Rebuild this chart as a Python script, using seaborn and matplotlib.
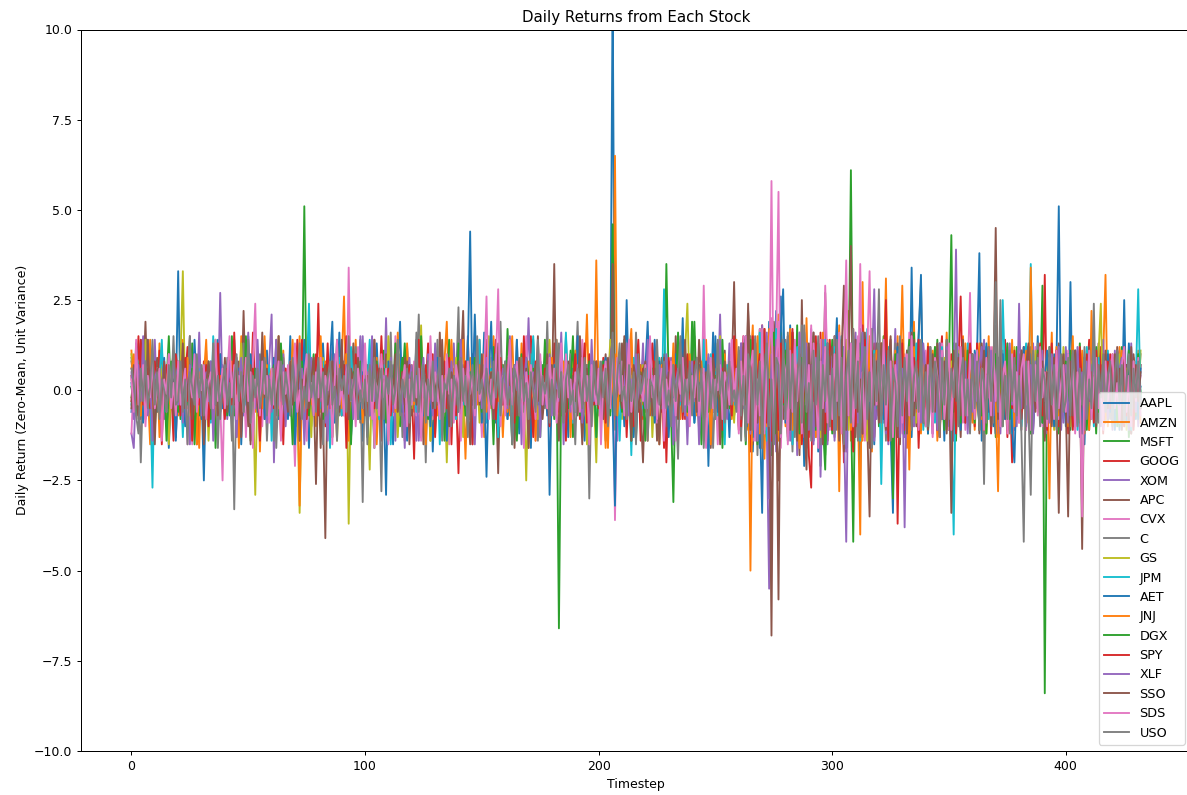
import numpy as np
import matplotlib
matplotlib.use("Agg")
import matplotlib.pyplot as plt
import seaborn as sns

# Daily returns, stored in tenths of a unit (12 -> 1.2)
aapl = [-6, 2, 4, -1, 14, -3, 1, 5, -10, 2, 0, 6, -2, 12, -4, 1, -16, 3, 0, -2,
        33, -5, 2, -1, 6, -13, 1, 4, -3, 9, 0, -25, 3, -1, 5, -4, 1, 14, -2, 0,
        4, -1, -6, 3, 1, -13, 7, 0, 2, -4, 15, 0, -3, 1, -7, 4, 1, -2, 11, -5,
        -2, 5, 1, -8, 3, 0, 4, -4, 15, -2, 1, -6, 2, 7, -3, 0, -16, 4, 1, -1,
        3, -5, 13, -1, 0, 5, -7, 2, -2, 16, -1, 4, -6, 1, 0, -3, 7, -1, 2, -14,
        1, 5, -3, 0, -6, 13, -1, 2, -4, 1, 6, -2, -15, 3, 0, -2, 4, -5, 12, -1,
        -2, 3, 0, -5, 12, -2, 1, 0, 4, -17, 2, 5, -1, 0, -3, 6, -1, 2, -6, 1,
        4, -1, 7, -3, 0, 2, -13, 1, -1, 5, -2, 16, -4, 1, 3, -1, -9, 2, 0, -2,
        2, -4, 1, 6, -1, 3, -12, 0, 5, -2, 1, -3, 14, -1, 2, -5, 4, 0, 13, -29,
        3, -2, 6, 0, -4, 1, 15, -2, 0, 5, -6, 2, -1, 3, -14, 1, 4, -3, 7, -1,
        -2, 6, 1, -5, 0, 3, 112, -8, 2, -1, 5, -3, 25, -1, 2, -13, 0, 4, -2, 9,
        -1, 3, -5, 1, 14, -2, 2, 0, 6, -4, 1, 3, -15, 0, 5, -2, 2, -1, -7, 4,
        2, -3, 7, -1, 4, -10, 0, 2, -5, 16, -1, 3, 0, 6, -4, 1, -13, 5, 0, -2,
        6, -9, 3, 14, -4, 8, -17, 2, 10, -6, -34, 12, -5, 19, -11, 4, 22, -8, 26, -3,
        10, -6, 18, -12, 3, 7, -9, 5, -21, 13, -2, 6, -14, 2, 11, -7, 1, 16, -4, 9,
        -11, 5, 20, -8, 2, -15, 9, 6, -3, 13, -10, 2, -22, 8, 12, -5, 1, 17, -7, 4,
        8, -13, 3, 15, -6, 10, -18, 2, 7, -9, 5, -3, 11, -8, 34, -4, 6, 14, -10, 1,
        -5, 9, 2, -12, 7, -2, 13, -8, 4, 0, -11, 8, -3, 12, -6, 2, 9, -9, 5, -1,
        7, -4, 10, 38, -14, 3, -8, 6, 1, -10, 9, -3, 12, -6, 4, 0, 10, -9, 3, 5,
        -7, 11, -3, 6, 2, -10, 8, -1, 15, -5, 3, -13, 9, 0, -6, 10, -3, 7, -9, 4,
        2, -8, 30, -10, 5, 9, -3, 0, -15, 7, 3, -6, 12, -2, 8, -5, 1, 10, -7, 4,
        -4, 9, 0, -11, 6, 2, -4, 13, -1, 5, -8, 3, 1]

amzn = [11, -3, 5, -6, 2, 7, -4, 0, -15, 4, 1, -6, 13, -2, 3, -10, 5, 0, -4, 2,
        -7, 3, 14, -1, -5, 12, -3, 4, 0, -16, 6, -2, 2, 7, -4, 1, -8, 5, 2, -3,
        4, -1, 10, -6, 2, 0, -7, 15, -3, 2, -5, 8, 1, -2, 6, -17, 3, 0, 7, -4,
        2, -14, 5, 0, -3, 11, -6, 2, -2, 7, -4, 1, 15, -7, 3, 0, 6, -3, 4, -10,
        6, -3, 1, 8, -5, 2, -13, 4, 0, -2, 7, 26, -6, 2, -8, 3, 14, -4, 1, -2,
        -4, 2, 7, -2, 5, -15, 1, 3, -6, 12, 0, 4, -3, 2, -7, 6, 0, -5, 13, -1,
        3, -6, 2, 11, -4, 0, -3, 7, -14, 1, 5, -4, 3, -1, 8, 19, -5, 2, -7, 4,
        -2, 5, 0, -19, 3, 9, -4, 1, 6, -3, 2, -13, 4, 0, -5, 15, -1, 3, -6, 7,
        -1, 4, -7, 3, 0, 6, -4, 13, -2, 5, -16, 1, 3, -4, 7, 0, -6, 2, 10, -3,
        5, -2, 14, -5, 3, 1, -10, 4, -3, 7, 0, -4, 2, -13, 3, 21, -4, 6, -1, 3,
        -6, 3, 0, -4, -16, 7, 2, 65, -9, 4, -2, 9, -4, 1, 14, -5, 3, 6, 0, -8,
        4, -1, 7, -6, 2, 3, -15, 0, 5, -3, 8, -4, 1, 6, -2, -8, 3, 12, -4, 0,
        -5, 7, 2, -11, 4, 0, 14, -3, -6, 3, 13, -1, 5, -13, 2, -4, 9, 1, -2, 6,
        10, -6, 14, -3, -11, 7, 18, -13, 5, -2, 12, -19, 8, 15, -7, 3, -14, 21, -4, 9,
        -10, 6, 17, -3, 11, -15, 4, 8, -12, 20, -6, 2, 13, -9, 5, -18, 10, -1, 14, -7,
        7, -12, 3, 18, -8, 11, -5, 22, -14, 2, 9, -4, -40, 30, -10, 6, 13, -17, 4, -2,
        12, -9, 5, 17, -13, 2, 8, -6, 15, -11, 3, 7, -16, 10, -3, 19, -8, 4, -12, 9,
        -4, 13, 1, -10, 7, -14, 11, 3, -7, 16, -3, 8, -12, 6, 0, -9, 15, -5, 10, -2,
        6, -11, 3, 13, -8, 4, -3, 15, -10, 7, 2, -13, 9, -5, 11, 1, -7, 14, -4, 8,
        -9, 5, 12, -3, 8, -12, 3, 10, -6, 2, 14, -8, 4, -2, 16, -10, 7, -4, 9, -3,
        11, -6, 3, 15, -9, 5, -3, 10, -12, 8, 1, -5, 13, -7, 4, -2, 9, 32, -10, 3,
        -3, 8, -7, 12, 2, -10, 6, -4, 9, 0, -6, 11, -4]

msft = [-2, 4, -7, 1, 13, -3, 3, -6, 0, 5, -11, 3, -1, 7, -4, 2, 15, -5, 0, 6,
        3, -8, 5, 0, 3, -4, 13, -2, 1, -7, 6, 0, -3, 8, -2, 4, -16, 2, 7, -5,
        -1, 6, -3, 15, -7, 2, 0, -5, 4, -2, 8, -14, 3, 5, 0, -4, 7, 1, -6, 3,
        5, -2, 1, -7, 11, 3, -5, 0, -2, 6, -14, 2, 4, -1, 51, -4, 2, -10, 7, 0,
        -3, 8, 2, -5, 0, 6, -13, 3, -1, 4, 9, -2, -7, 1, 5, -4, 3, 0, 14, -6,
        2, -4, 7, 0, -16, 5, -2, 3, 11, -6, 1, -3, 6, -1, 4, -10, 2, 13, -2, 0,
        -5, 2, 10, -3, 1, 6, -7, 4, 0, 2, -12, 7, 0, -4, 5, -2, 14, -6, 3, 1,
        4, -7, 2, -1, 14, -4, 0, 6, -2, 2, -10, 5, 3, -6, 1, 12, -3, 0, -5, 7,
        -3, 6, 1, -15, 4, 2, -5, 10, -1, 3, -7, 0, 5, -3, 2, -13, 7, -2, 4, 0,
        -6, 3, 0, 8, -4, 2, 6, -2, 11, -13, 1, 4, -5, 2, -1, 7, -9, 3, 0, -3,
        5, -2, 8, -6, 2, 0, 46, -11, 4, -3, 7, 1, -5, 10, -2, 2, -14, 6, -1, 3,
        -4, 7, 2, -9, 3, 10, -1, 6, -5, 35, 2, -7, -31, 5, 0, -3, 13, -2, 4, -6,
        19, -3, 5, -8, 2, 7, -4, 0, 9, -6, 3, -1, 6, -16, 2, 4, -5, 12, -2, 1,
        -8, 12, 4, -15, 7, -3, 14, -10, 2, 17, -6, 9, -13, 5, -18, 11, 3, -7, 16, -4,
        9, -14, 3, 13, -6, 18, -11, 2, 7, -16, 10, -3, 15, -8, 4, -21, 12, -18, 6, -3,
        14, -7, 2, -12, 10, 5, -16, 8, -3, -42, 11, -5, 17, -9, 2, 13, -11, 6, -1, 9,
        -10, 4, 15, -7, 11, -14, -13, 7, 2, -9, 13, -4, 8, -12, 5, 16, -6, 1, -11, 10,
        6, -12, 2, 9, -5, 14, -8, 3, -2, 11, -10, 7, 0, -14, 8, -3, 12, -6, 2, -9,
        10, -4, 7, -11, 1, 13, -7, 5, -2, 9, -13, 4, 11, -6, 2, -10, 8, 0, -5, 12,
        -7, 9, -2, 6, 12, -10, 3, -5, 8, -1, 29, -84, 5, -8, 11, -4, 7, -12, 2, 10,
        -3, 8, -11, 5, 1, -7, 13, -4, 9, 0, -10, 6, 2, -12, 7, -5, 10, 0, -8, 4,
        9, -6, 1, -10, 12, -3, 7, -13, 4, 0, -7, 10, -2]

goog = [4, -6, 1, 15, -2, 5, -8, 2, 7, -4, 0, -2, 11, -7, 3, 4, -5, 1, -14, 6,
        -1, 7, -4, 3, 12, -6, 0, 4, -15, 2, -3, 8, -5, 3, 1, -7, 6, 0, 10, -3,
        5, -2, 8, -7, 0, 3, -13, 6, -3, 1, 7, -4, 16, -1, -6, 3, 4, -8, 2, 0,
        -4, 9, -1, 5, -13, 2, 6, -3, 0, 10, -5, 3, -2, 14, -9, 4, 1, -6, 7, -3,
        24, -5, 3, -10, 6, 1, -3, 8, -2, 4, -7, 0, 15, -4, 3, -1, 7, -8, 5, 2,
        -3, 6, 0, 9, -5, 3, 1, -14, 4, -2, 10, -6, 2, 0, -4, 8, -3, 5, -9, 3,
        1, -19, 7, -3, 4, -8, 2, 13, -4, 0, -6, 5, 3, -1, 8, -5, 3, -15, 6, -2,
        -23, 4, -3, 7, 0, -6, 10, -3, 2, 5, -8, 3, -1, 6, -4, 1, 14, -7, 3, 0,
        7, -3, 2, -9, 5, 0, -3, 8, -6, 4, -1, 15, -5, 3, -13, 3, 1, -4, 6, -2,
        -5, 13, 3, -1, 6, -7, 0, 4, -3, 9, -2, 5, -8, 1, 3, -6, 10, -3, 2, -4,
        6, -3, 9, -5, 1, 4, 17, -8, 3, 0, 7, -4, 2, 10, -6, 3, -1, 5, -14, 0,
        -2, 5, -7, 3, 8, -3, 1, -6, 10, -20, 4, 0, -5, 7, -3, 2, 14, -8, 3, -1,
        4, -8, 2, 7, -3, 15, -1, 5, -6, 0, 8, -4, 3, -11, 6, 1, -3, 9, -7, 3,
        -11, 6, 15, -4, 10, -17, 3, 8, -13, 5, 18, -9, 2, -16, 12, -5, 7, 14, -10, 3,
        8, -12, 4, 17, -7, 11, -3, -15, 6, 9, -18, -27, 13, 3, -8, 16, -5, 10, -14, 2,
        -9, 15, 5, -13, 10, -20, 7, 3, -6, -17, 12, 4, -11, 18, -3, 8, -15, 2, 13, -7,
        11, -5, 3, 19, -10, 6, -14, 8, -37, 3, 14, -8, 5, -12, 10, -3, 7, -16, 4, 9,
        -7, 12, -3, 8, 2, -11, 6, 15, -9, 4, -5, 10, -13, 3, 7, 26, -4, 9, -8, 1,
        5, -10, 13, -3, 8, -7, 4, 11, -12, 2, 6, -8, 10, -4, 14, -6, 3, -20, 7, -2,
        9, -4, 12, -8, 3, 7, -11, 5, -1, 10, -6, 32, -9, 4, 13, -7, 2, -10, 8, -3,
        6, -12, 3, 9, -5, 11, -2, 7, -10, 3, 14, -4, 8, -7, 1, 12, -9, 5, -3, 10,
        -8, 4, 11, -6, 2, -10, 7, 3, -12, 9, -1, 5, -4]

xom = [-12, -16, 3, 7, -4, 1, 6, -7, 4, -2, 14, -5, 0, 4, -8, 2, 7, -3, 5, -6,
       2, -4, 8, -1, 5, -15, 3, 0, -6, 10, -2, 4, -7, 3, 1, -5, 7, -3, 27, -2,
       4, -8, 1, 6, -4, 9, 0, 3, -7, 2, 16, -5, 3, -1, 7, -13, 4, 0, -3, 8,
       21, -20, 5, 2, -6, 10, -3, 4, 0, 7, -14, 1, 6, -4, 3, -2, 8, -7, 3, 0,
       -5, 7, 1, -9, 4, -3, 12, -6, 2, 5, -1, 8, -4, 0, -13, 3, 6, -2, 15, -3,
       3, -6, 8, -2, 4, 0, -7, 5, -3, 20, -5, 2, 7, -14, 3, -1, 6, -4, 1, 9,
       -3, 5, -14, 2, 7, -4, 0, 10, -6, 3, -1, 8, -5, 3, 4, -12, 2, 0, 13, -3,
       6, -2, 3, -7, 15, -4, 1, 5, -3, 8, -10, 3, 0, -5, 7, -1, 4, -13, 2, 5,
       -4, 9, -1, 3, -6, 2, 7, -15, 3, 0, 20, -3, 5, -7, 1, 8, -4, 3, -2, 6,
       -3, 7, -5, 1, 16, -3, 4, -8, 0, 6, -2, 9, -6, 3, 0, 5, -14, 2, 7, -4,
       3, -7, 5, -1, 8, -4, 2, 7, -14, 3, 0, -5, 10, -3, 4, -8, 1, 6, -2, 13,
       -6, 2, 14, -3, 5, -10, 3, 0, 7, -4, 1, 9, -7, 3, -2, 6, 0, 4, -15, 3,
       7, -3, 1, -9, 5, 3, -6, 10, -2, 4, -8, 0, 21, -5, 3, -1, 13, -7, 2, 6,
       -9, 13, -5, 7, 16, -12, 4, -7, 10, -15, 18, 3, -11, -55, 14, 6, -17, 9, -4, 12,
       -6, 15, -10, 4, 11, -18, 7, 2, -13, 9, -4, 17, -8, 3, 12, -24, 5, 10, -15, 3,
       8, -14, 6, -3, 13, -9, -42, 11, -7, 4, 16, -12, 2, 9, -5, 14, -10, 7, 28, -8,
       3, 12, -9, 6, -15, 10, -4, 17, -7, 2, 9, -13, 5, -3, 14, -10, 8, 1, -11, 7,
       -5, 10, 4, -12, 7, -2, 13, -8, 3, 11, -6, 1, -14, 9, 4, -7, 12, -4, 6, -10,
       8, -3, 11, -7, 4, 14, -10, 2, -5, 9, 0, -12, 7, 3, -8, 12, -2, 6, -11, 4,
       -4, 9, 2, -11, 7, -6, 13, -3, 5, 10, -8, 3, -12, 6, 1, -7, 11, -3, 8, -9,
       12, -5, 7, 1, -10, 4, -13, 9, 3, -6, 11, -2, 5, -9, 8, -4, 14, -7, 3, 0,
       -11, 6, 3, -8, 10, -3, 5, -7, 13, -1, 4, -10, 7]

apc = [8, 2, -5, 3, -8, 1, 19, -3, 7, -4, 0, 9, -6, 3, -1, 5, -14, 4, 2, -3,
       8, -2, 4, -7, 1, 15, -3, 0, -5, 6, 3, -13, 4, -1, 7, -4, 2, 9, -6, 3,
       -3, 5, 0, -7, 3, -1, 8, -4, 22, -2, 6, -15, 3, 4, -5, 1, 7, -3, 0, -6,
       4, -2, 14, -5, 3, 1, -7, 6, -3, 10, 0, 3, -14, 2, 5, -3, 7, -4, 0, -26,
       5, 1, -6, -41, 7, 3, -4, 9, -1, 3, -7, 2, 6, -5, 0, 13, -3, 4, -9, 1,
       -2, 7, -4, 3, 14, -6, 0, 5, -3, 10, -7, 1, 3, 0, 6, -5, 2, 9, -3, 4,
       -7, 3, 6, -1, 4, -15, 2, 8, -3, 0, 5, -6, 16, -3, 1, -4, 7, -2, 3, -8,
       3, 6, 22, -5, 2, -8, 4, 0, -3, 14, -1, 5, -7, 3, 8, -4, 1, -23, 6, -2,
       7, -4, 1, 5, -16, 3, 0, 8, -5, 3, 2, -7, 6, -1, 15, -3, 0, 4, -6, 3,
       -1, 35, -8, 3, 7, -4, 1, -3, 9, -6, 2, 5, 0, -15, 4, 3, -7, 8, -2, 0,
       4, -6, 2, 10, -3, 1, 35, -7, 5, 0, 13, -4, 3, -2, 6, -9, 3, 0, -5, -20,
       2, 7, -3, 0, 5, -14, 3, 9, -2, -10, 4, 1, -6, 15, -3, 3, 0, 6, -4, 2,
       -5, 3, 9, -3, 6, -7, 1, 4, -16, 3, 0, -4, 7, -2, 11, -6, 3, 5, 30, -3,
       10, -7, 4, -13, 22, 8, -15, 5, 13, -9, -6, 17, -11, 3, -68, 19, 7, -58, 15, -8,
       4, -13, 9, 16, -7, 2, -18, 25, -10, -12, 11, -5, 15, 2, -14, 8, -3, 27, -9, 6,
       -11, 7, 14, -4, 10, -17, 3, 12, -8, 5, -13, 9, 2, -6, 16, -10, -35, 8, -2, 13,
       7, -12, 4, 15, -6, 10, -9, 2, 13, -15, 5, -3, 11, -7, 1, 14, -10, 6, -4, 9,
       -8, 5, 12, -3, 7, -11, 2, 10, -6, 14, -2, 4, -9, 8, 0, -13, 6, 11, -5, 3,
       9, -6, 3, -10, 13, 2, -7, 8, -4, 11, -12, 5, 1, -8, 7, -2, 10, -9, 4, 0,
       6, -11, 8, 3, -5, 12, -8, 2, 9, -3, 7, -14, 4, 10, -6, 1, -10, 13, -2, 5,
       -7, 10, -2, 6, 11, -8, 3, -5, 9, 0, -11, 7, 3, -4, 13, -9, 5, -1, 8, -6,
       4, -10, 12, 2, -7, 8, -3, 6, -12, 10, 1, -5, 7]

cvx = [-12, 4, 7, -3, 5, -7, 1, 14, -4, 2, 0, 6, -8, 3, 4, -5, 10, -2, 0, -13,
       3, -1, 8, -5, 2, 6, -15, 3, -3, 7, 0, -4, 11, -2, 5, -7, 1, 4, -3, -25,
       7, 2, -6, 4, -1, 9, -4, 0, 5, -13, 3, -2, 8, 24, -5, 3, -10, 6, 1, -3,
       4, -7, 2, 15, -3, 5, 0, -6, 8, -3, -21, 3, 7, -2, 4, -14, 1, 6, -4, 0,
       -3, 8, -5, 3, 1, -13, 6, -1, 9, -4, 2, 5, -8, 34, -6, 3, -2, 12, -3, 0,
       5, -3, 1, 7, -16, 3, 4, -2, 8, -6, 0, 3, -7, 15, -1, 5, -4, 2, -8, 6,
       -2, 4, -7, 1, 14, -3, 6, 0, 3, -8, 5, 2, -4, 7, -1, 3, -15, 8, -3, 0,
       6, -4, 3, 0, 8, -6, 2, 16, -3, 1, -13, 4, 0, -5, 9, -2, 3, -8, 5, -1,
       3, -7, 8, -2, 4, 0, -5, 7, -3, 15, -4, 1, 6, -14, 2, 3, -1, 5, -7, 9,
       -4, 2, 6, -13, 3, -1, 9, -3, 0, 7, -6, 3, -2, 14, -5, 1, 4, -10, 3, 5,
       -7, 3, 0, -3, 7, -5, 10, -36, 4, -2, 8, -6, 1, 3, -15, 5, 0, 3, 6, -4,
       2, -5, 13, -1, 4, -9, 3, 6, -3, 0, 7, -2, 5, -14, 1, 10, -4, 3, -6, 3,
       -3, 9, -1, 5, -7, 29, -4, 2, 8, -6, 3, -15, 4, 0, -3, 7, -5, 14, -2, 1,
       8, -11, 15, -6, 4, 10, -14, 7, -9, 17, 5, -12, 9, -4, 58, -10, 13, 55, -16, 6,
       -9, 12, 4, -15, 8, -5, 16, -10, 3, 11, -7, 18, -13, 6, -3, 14, -9, 29, 5, -11,
       10, -6, 14, -12, 4, 9, -17, 7, 2, -10, 13, -4, 35, -8, 5, 15, -11, 3, -7, 10,
       -5, 13, 3, -10, 9, -15, 6, 11, -8, 2, -12, 10, -3, 16, -7, 4, 11, -9, 1, 8,
       11, -7, 5, -12, 10, 1, -9, 13, -4, 7, -11, 3, 9, -6, 12, -3, 6, -11, 4, 27,
       -8, 6, 11, -4, 3, -12, 9, -2, 12, -7, 5, 0, -10, 8, -5, 13, -3, 7, -9, 2,
       10, -5, 3, -11, 8, 4, -9, 12, -3, 6, -10, 2, 9, -7, 5, -4, 11, -8, 3, 7,
       -6, 11, -3, 8, -10, 2, 7, -12, 5, 10, -4, 1, -8, 11, -3, 6, -10, 4, 9, -7,
       3, -9, 7, 1, -5, 11, -8, 3, 5, -10, 8, -2, 4]

c_ = [9, 3, -4, 8, -20, 2, -6, 14, -1, 5, -9, 3, 0, -7, 6, -3, 9, -4, 1, -13,
      4, -2, 7, -5, 3, 15, -3, 0, -8, 6, 2, -4, 8, -1, 3, -7, 5, -16, 3, 0,
      -5, 9, -1, 6, -33, 4, 1, -7, 13, -3, 3, -9, 5, 0, -4, 10, -2, 7, -14, 2,
      3, -14, 6, 1, -4, 9, -2, 5, -7, 3, 0, -10, 7, -3, 4, 0, 15, -5, 2, 6,
      -3, 7, -15, 3, 1, -5, 10, -1, 4, -7, 2, 8, -3, 5, -10, 0, 12, -2, 3, -31,
      9, -3, 5, -7, 2, 6, -1, -28, 8, -4, 3, 16, -6, 0, -3, 7, -13, 4, 1, -5,
      6, -2, 3, 21, -6, 3, -20, 8, -3, 5, -1, 14, -7, 2, 4, -5, 0, 7, -3, 3,
      23, -6, 2, 8, -3, 5, -15, 1, 7, -3, 4, 0, 10, -5, 3, -7, 6, 0, 19, -4,
      3, -8, 5, 1, -3, 14, -6, 2, -1, 7, -4, 10, -2, 3, -14, 5, 0, -5, 19, -3,
      4, -7, 2, 13, -5, 0, 6, -3, 10, -9, 3, 19, -4, 1, -6, 7, -30, 3, 5, -3,
      8, -4, 2, -14, 5, 1, -3, 9, -6, 3, 0, -8, 6, -2, 4, -5, 16, 0, 3, -7,
      5, -1, 7, -6, 3, 14, -3, 1, -8, 4, 2, -5, 8, -3, -19, 6, -4, 0, 7, -2,
      -6, 15, -3, 4, 0, -8, 7, -2, 5, -16, 3, 1, -5, 8, -3, 6, 0, 9, -7, 3,
      5, -14, 10, 2, -8, 15, -5, 12, -18, 7, -3, 13, -10, 4, 17, -15, 8, -6, 11, -3,
      14, -9, 3, -17, 11, 6, -13, 18, -4, 9, -11, 3, 16, -7, 2, -15, 12, -5, 8, -10,
      3, 15, -11, 7, -5, 12, -16, 4, 10, -8, 2, -14, 13, -3, 9, -12, 6, 17, -7, 3,
      28, -10, 5, -14, 8, 3, -9, 13, -6, 11, -3, 7, -12, 1, 9, -8, 4, 15, 30, -7,
      4, -10, 12, -5, 8, 2, -13, 7, -3, 14, -8, 5, -11, 9, 1, -6, 13, -9, 5, -2,
      10, -6, 4, -11, 7, -26, 12, -3, 8, -9, 18, 3, -7, 11, -4, 6, -12, 9, -1, 5,
      -8, 11, -3, 7, 3, -10, 9, -5, 13, -2, 6, -11, 4, 8, -6, 2, -9, 12, -4, 7,
      -3, 9, -7, 5, 11, -4, 1, -10, 8, 3, -6, 12, -2, 7, -9, 4, -5, 10, 0, -8,
      6, -4, 11, -7, 3, 9, -10, 4, -2, 8, -5, 1, 10]

gs = [10, 5, -3, 6, -7, 2, 14, -4, 1, -8, 3, 5, -2, 7, -5, 0, -15, 3, 6, -1,
      -4, 8, 33, -3, 2, -7, 5, 0, -3, 9, -6, 1, 4, -14, 3, 0, 7, -5, 2, 3,
      -7, 3, 6, -1, 4, -9, 0, 13, -3, 2, -5, 7, 1, -29, 3, -2, 10, -6, 3, 0,
      5, -3, 2, 15, -6, 0, -8, 4, 3, -1, 7, -4, -34, 3, 9, -3, 1, -13, 6, -2,
      3, -6, 9, 0, -4, 7, -2, 5, -14, 3, 1, -5, 10, -37, 4, 0, 6, -3, 2, -7,
      8, -3, -22, 4, 1, -7, 6, 0, 3, -5, 15, -2, 3, 7, -13, 0, 5, -4, 2, -1,
      -5, 7, 2, -3, 18, -6, 4, 0, -14, 3, 8, -2, 5, -7, 1, -20, 3, 6, -3, 9,
      -1, 5, -13, 3, 0, -4, 8, -2, 6, -9, 3, 1, -5, 15, -3, 4, 0, 7, -6, 2,
      4, -2, 8, -6, 1, 5, -3, 9, 0, -25, 3, 7, -4, 2, -8, 3, 0, 6, -5, 14,
      -3, 6, -1, 4, -7, 2, 13, -5, 0, 8, -3, 3, -6, 1, 5, -15, 3, 7, -2, -20,
      5, -2, 7, -4, 1, 14, -6, 3, 0, 4, -8, 2, 6, -3, 0, 8, -5, 1, -3, 7,
      -4, 3, 6, -13, 0, 8, -2, 5, -9, 3, 1, -6, 7, -3, 4, 2, -5, 10, 24, -3,
      2, -6, 9, -1, 4, -14, 3, 7, -4, 0, 6, -3, 15, -7, 3, -2, 5, 1, -9, 4,
      -7, 11, -4, 6, 14, -10, 3, -6, 9, 1, -13, 7, 15, -4, 10, -12, 5, 2, -8, 12,
      6, -11, 13, -5, 3, 9, -15, 7, -3, 12, 4, -9, 14, -7, 1, -13, 10, 3, -6, 8,
      -10, 4, 12, -8, 7, -3, 14, -11, 5, 1, -9, 13, -5, 8, 3, -14, 6, 11, -4, 9,
      7, -13, 3, 10, -6, 14, -2, 8, -11, 4, 9, -7, 3, -12, 11, 5, -9, 2, 13, -4,
      -6, 10, -3, 7, 12, -8, 4, -1, 9, -11, 3, 8, -5, 1, 11, -9, 6, -3, 10, 2,
      5, -9, 11, 3, -6, 8, -12, 4, 0, 10, -7, 3, -10, 7, 2, -5, 9, -3, 12, -8,
      8, -4, 3, -10, 9, 5, -7, 11, -2, 6, -9, 3, 10, -6, 1, -11, 7, 4, -3, 12,
      -5, 7, -10, 4, 9, -3, 6, -8, 2, 11, -4, 8, -7, 3, 10, 24, -9, 5, -2, 6,
      9, -7, 3, 10, -4, 6, -11, 2, 8, -3, 5, -8, 11]

jpm = [-4, 6, 2, -7, 4, -1, 8, -5, 0, -27, 7, -3, 3, 14, -6, 1, -4, 5, 0, 10,
       -2, 4, -13, 3, 7, -5, 1, 9, -3, 6, 0, -7, 3, 2, -9, 15, -3, 5, 1, -4,
       6, -1, 3, -8, 14, -4, 2, 7, -6, 0, 5, -3, -13, 4, 1, 8, -5, 3, -2, 7,
       -14, 3, 5, -2, 8, -7, 1, 4, -3, 10, 0, 6, -5, 2, -8, 3, 24, -4, 7, -1,
       3, -5, 8, 0, 4, -16, 2, 6, -3, 9, -7, 1, 3, -4, 12, -2, 5, -8, 0, 4,
       -6, 2, 14, -3, 1, 5, -8, 3, 7, -1, 4, -15, 0, 6, -3, 10, -5, 2, 3, -7,
       5, 0, -6, 13, -3, 3, 1, -7, 9, -4, 2, 6, -15, 3, 0, -3, 7, -2, 4, -8,
       1, 7, -4, 3, 9, -6, 0, 4, -2, 14, -5, 3, -9, 2, 6, -1, 10, -13, 3, -3,
       8, -3, 5, -14, 1, 7, -4, 2, 0, 6, -8, 3, 15, -2, 4, -6, 0, 3, -5, 7,
       -2, 6, -7, 3, 0, -4, 16, -3, 5, -9, 1, 8, -3, 2, 7, -6, 3, -1, 4, -13,
       3, -6, 8, 1, -4, 7, 13, -3, 5, -14, 2, 6, -1, 4, -18, 9, -3, 0, 7, -5,
       -3, 8, 2, -7, 4, 0, 9, -5, 28, -3, 1, 6, -13, 3, 10, -4, 0, 7, -2, 3,
       6, -9, 1, 4, -3, 14, -6, 2, 10, -3, 5, -7, 0, 3, -15, 7, -1, 9, -4, 3,
       -8, 10, 4, -12, 7, -4, 14, -9, 2, 16, -7, 5, -14, 11, 3, -10, 17, -5, 8, -2,
       13, -6, 9, -15, 4, 12, -10, 2, 16, -8, 5, -3, 11, -13, 7, 1, -11, 14, -4, 9,
       -7, 12, -3, 8, 15, -11, 4, -6, 13, -9, 3, 10, -14, 6, -1, 17, -8, 3, 11, -5,
       8, -26, 6, -3, 12, -10, 3, 9, -7, 14, -4, 2, -12, 8, 5, -9, 13, -2, 7, -11,
       4, -6, 11, 1, -9, 7, -3, 12, -5, 3, 9, -10, -40, 6, -3, 10, -7, 4, 13, -8,
       -4, 9, 3, -11, 7, -1, 12, -8, 5, 10, -6, 2, -9, 25, 3, -4, 8, -12, 6, 1,
       7, -10, 4, 13, -5, 35, -8, 3, 10, -3, 6, -11, 2, 9, -7, 4, -3, 11, -9, 5,
       -3, 10, -6, 2, 8, -11, 5, 0, -8, 12, -2, 7, -10, 4, 9, -5, 3, -9, 11, -1,
       6, -8, 10, -3, 4, 9, -7, 2, -11, 8, 3, 28, -4]

aet = [2, -5, 13, -1, 4, -9, 3, 6, -3, 0, 7, -6, 1, -3, 9, -4, 5, 0, 3, -14,
       6, -2, 3, -10, 1, 7, -4, 14, 0, 3, -8, 4, 2, -6, 8, -1, 5, -3, 10, -5,
       0, 4, -7, 2, 8, -3, 6, -15, 3, 1, -4, 10, -2, 5, -6, 0, 13, -8, 3, 4,
       -5, 9, 1, -3, 7, -2, 4, -8, 0, 6, -15, 3, 5, -1, 14, -4, 2, 3, -7, 1,
       7, -3, 5, -6, 2, 8, 19, -9, 3, -1, 6, -4, 0, 10, -13, 3, -2, 4, -8, 5,
       -1, 3, -7, 9, 3, -5, 1, 6, -3, -29, 8, -2, 4, 0, 5, 19, -6, 2, -14, 7,
       3, -4, 14, -1, 5, -7, 0, 3, -10, 6, -3, 9, -5, 2, 4, -14, 1, 7, -2, 3,
       -6, 2, 5, -3, 10, 44, -4, 21, -2, 7, -9, 3, -24, 4, 19, -5, 1, 8, -3, 0,
       4, -8, 2, 6, -3, 14, -5, 1, 7, -2, 3, -16, 5, 0, -4, 8, -1, 3, -7, 6,
       -3, 7, -5, 1, 9, -3, 4, -13, 2, 6, -1, 15, -6, 3, 0, 5, -9, 3, 8, -4,
       1, -7, 4, 9, -3, 6, -5, -32, 8, -1, 3, -10, 12, 2, -4, 5, -13, 3, 0, -3,
       6, 19, -3, 5, -9, 2, 8, -4, 1, 7, -13, 3, -2, 10, -5, 0, 20, -7, 3, -1,
       4, -9, 2, 7, -3, 1, 8, -21, 5, -3, 15, -6, 0, 4, -8, 3, 6, -2, 9, -5,
       11, -7, 4, 15, -10, 6, -13, 2, 9, -16, 5, 12, -8, 3, -14, 7, 10, -4, 17, 28,
       -9, 14, -5, 8, 3, -13, 10, -7, 16, -3, 6, -12, 2, 11, -17, 5, 9, -10, 13, -3,
       7, -11, 15, 4, -8, 12, -16, 6, 1, -10, 14, -4, 9, -13, 3, 11, -7, 5, -15, 8,
       -4, 10, -8, 13, 2, -11, -34, 7, 12, -6, 4, -10, 9, 5, -13, 8, -3, 15, 32, -9,
       5, -12, 8, -2, 11, 4, -9, 6, -14, 10, 1, -7, 13, -4, 7, -11, 3, 9, -5, 12,
       -7, 11, 5, -10, 8, -3, 13, -6, 2, 9, -12, 5, -1, 10, -8, 4, 7, -11, -20, 5,
       9, -4, 12, -7, 3, 10, -11, 5, -2, 8, -9, 4, 11, -6, 1, -10, 7, 51, -8, 4,
       -10, 6, 2, -8, 11, -4, 7, -12, 5, 9, -5, 1, 12, -7, 4, -9, 8, -3, 10, -6,
       5, -11, 7, 3, -6, 25, -9, 4, 10, -4, 2, -8, 6]

jnj = [6, 10, -4, 1, -7, 5, 0, -3, 14, -5, 2, 6, -13, 3, -1, 7, -4, 3, 11, -6,
       1, -4, 7, -2, 9, -6, 3, 0, -15, 5, -1, 4, 14, -5, 2, -9, 6, -3, 4, 0,
       -7, 3, 1, 8, -4, 2, -16, 6, 0, 4, 9, -3, 3, -6, 7, 1, -5, 15, -2, 3,
       6, -2, 8, -5, 3, 0, -7, 4, -3, 14, -1, 5, -32, 2, -6, 8, 1, -4, 7, -3,
       -4, 15, -1, 5, -8, 2, 6, -3, 0, 7, -5, 3, 10, -14, 3, -2, 8, 0, 4, -9,
       3, -2, 6, -7, 1, 9, -4, 3, 0, 5, -14, 4, 2, -6, 16, -3, 7, -1, 3, -5,
       7, -4, 2, 8, -3, 5, -15, 1, 6, -2, 3, -7, 9, 0, 4, -5, 3, 14, -3, 1,
       -5, 3, 14, -1, 6, -8, 3, 0, -4, 7, -2, 10, -6, 2, 5, -3, 8, -3, 1, -13,
       2, -6, 4, 15, -3, 1, -7, 5, 3, 0, 8, -4, 2, -14, 6, 3, -2, 7, -5, 0,
       9, -3, 5, -7, 2, 8, -1, 4, -13, 3, 11, -3, 0, -8, 5, 1, -4, 7, -2, 36,
       -3, 6, 1, -16, 8, -4, 3, 10, -7, 2, -1, 5, -3, 9, 17, -6, 3, 0, 7, -4,
       3, -14, 5, 2, -5, 9, -1, 7, -9, 4, 0, -3, 13, -6, 3, 6, -3, 1, -7, 10,
       -2, 5, -7, 3, 8, -4, 1, 6, -15, 3, 0, 7, -5, 2, 10, -3, 4, -8, 0, 14,
       -6, 12, 3, -9, 7, -50, 11, -4, 15, -12, 6, 2, -10, 17, -7, 9, 4, -14, 12, -3,
       10, -5, 14, -11, 3, 7, -16, 9, -2, 13, -8, 5, 1, -13, 11, -6, 16, -4, 8, -10,
       5, -9, 12, -28, 8, 3, -7, 13, -11, 6, -2, 10, 4, -14, 9, -5, 15, -8, 2, 11,
       -7, 13, 3, 31, -10, 6, -5, 11, -8, 4, 29, -3, 9, -22, 7, 12, -6, 2, -11, 8,
       3, -10, 7, 11, -4, 9, -13, 2, 6, -8, 12, -2, 5, -11, 8, 0, -7, 13, -4, 6,
       -9, 4, 10, -3, 8, -11, 5, 1, -6, 12, -3, -28, 9, -7, 3, 11, -5, 7, -10, 2,
       8, -6, 3, 11, -9, 34, -4, 7, 0, -8, 10, -3, 5, -30, 9, -2, 12, -7, 4, 0,
       7, -10, 4, 9, -5, 1, -8, 11, -3, 6, -11, 22, -2, 8, -6, 3, 10, -9, 2, 5,
       -4, 9, -7, 1, 11, -5, 6, -10, 3, 8, -2, 7, -9]

dgx = [1, -4, 7, -2, 3, 14, -6, 0, -3, 5, -8, 2, 6, -1, 4, -14, 1, 8, -3, 0,
       -6, 3, 0, 8, -4, 1, 6, -15, 3, 0, -5, 7, -2, 4, -8, 1, 14, -3, 2, -1,
       5, -7, 1, 0, -3, 8, -2, 4, -6, 15, -1, 3, -13, 6, 0, -4, 3, 7, -3, -5,
       3, 7, -4, 1, 13, -2, -6, 3, 0, -15, 5, 2, -3, 8, -1, 4, -7, 3, 10, -5,
       -2, 4, -8, 3, 6, 0, 3, -5, 14, -3, 1, 7, -4, 2, -15, 5, 0, -3, 8, -1,
       4, -13, 1, 5, -3, 8, -4, 0, 6, -9, 2, 3, -1, 13, -5, 3, 9, -6, 1, -2,
       -3, 6, 0, -5, 15, -2, 4, -8, 3, 7, 0, -4, 5, 1, -14, 3, 8, -3, 2, -6,
       13, -1, 4, -7, 2, 5, -3, 9, 0, 3, -6, 7, 1, -4, 3, -15, 6, 0, -3, 4,
       -5, 17, 2, -3, 7, -14, 3, 0, -6, 9, 4, -2, 6, -7, 1, 5, -3, 14, -1, 3,
       4, -8, 6, -66, 3, -2, 7, -5, 1, 15, -3, 4, -7, 2, 5, 0, 8, -4, 3, -13,
       2, -4, 8, -1, 5, -7, 18, -3, 3, 0, -6, 14, -2, 4, -14, 1, 7, -3, 5, 0,
       -14, 3, 1, 6, -4, 9, -2, 0, -8, 5, 3, -5, 7, -1, 16, -3, 2, 4, -6, 1,
       6, 19, -3, 2, -15, 5, 0, -6, 8, -3, 4, 1, -7, 14, -2, 3, -5, 10, -1, 3,
       -5, 9, 6, -11, 3, 14, -8, 4, -15, 10, 1, -6, 13, -9, 5, 16, -12, 3, 7, -4,
       11, -8, 4, 15, -6, 2, -12, 9, 5, -14, 10, -3, 7, -11, 13, 3, -9, -22, 8, 4,
       -12, 8, 3, -7, 14, -10, 6, 2, 61, -9, 12, -4, 7, 16, -11, 5, -2, 10, -8, 3,
       9, -6, 13, -11, 4, 8, -30, 10, -3, 7, 2, -12, 6, 14, -8, 3, -5, 11, 0, -7,
       -10, 7, 3, -8, 12, -4, 9, 1, -11, 5, 8, 43, -6, 3, 10, -9, 4, -2, 11, -5,
       3, -9, 11, 6, -7, 2, -12, 8, 4, -5, 10, -1, 7, -10, 3, 13, -8, 5, -3, 9,
       -6, 10, -2, 7, 4, -12, 8, -4, 11, 1, -9, 5, -7, 12, -3, 6, -10, 3, 9, -5,
       8, -3, 11, -7, 2, 10, -9, 5, 0, -11, 7, -3, 4, 12, -6, 2, -10, 8, -4, 6,
       -3, 7, -10, 4, 9, -6, 2, 11, -8, 3, -5, 10, -1]

spy = [-3, 5, 1, -7, 14, -4, 2, 6, -5, 0, 8, -2, 4, -15, 3, 7, -1, 3, -6, 10,
       4, -7, 2, 9, -3, 5, -14, 1, 6, -4, 3, 0, 7, -10, 3, 5, -4, 13, -2, 0,
       -8, 6, 3, -4, 16, -1, 5, -7, 2, 9, -4, 0, 6, -5, 1, -14, 4, 8, -3, 3,
       2, -5, 8, 0, 3, -15, 6, 1, -4, 7, -2, 14, -6, 3, 4, -8, 0, 5, -3, 10,
       -7, 3, 6, -2, 13, -5, 0, 9, -4, 3, -1, 7, -16, 2, 5, -3, 10, -6, 1, 4,
       0, -8, 4, 2, -5, 7, -3, 15, -1, 3, 6, -7, 3, -4, 8, 0, 5, -14, 2, 7,
       -3, 5, -1, 14, -6, 3, 7, -4, 1, 10, -13, 3, -2, 6, 0, -5, 9, -3, 4, -7,
       6, -3, 0, 8, -5, 4, -15, 2, 7, -1, 3, -6, 14, -3, 1, 5, -8, 3, 9, -4,
       1, 7, -4, 3, -9, 5, 2, -6, 15, -3, 4, 0, -13, 8, -2, 3, -5, 6, 1, -10,
       5, -2, 9, -6, 3, 0, -14, 7, -3, 2, 10, -5, 4, 0, 13, -9, 3, 1, -4, 8,
       -5, 3, 7, -9, 2, 6, 15, -4, 0, 8, -3, 5, -13, 3, 1, -10, 4, 14, -2, 6,
       3, -6, 4, 13, -1, -7, 5, 2, -16, 3, 9, -4, 0, 7, -3, 6, -8, 3, 10, -2,
       -4, 8, 1, -6, 5, 3, -14, 7, -2, 10, -5, 3, 0, 6, -8, 4, 2, -7, 15, -3,
       7, -10, 12, -4, 9, -7, 15, -12, 4, 10, -6, 17, -9, 3, -14, 8, 5, -11, 13, -3,
       -4, 11, -7, 16, -10, 5, 9, -14, 3, 12, -13, 7, -3, 15, -8, 4, 10, -12, 2, 14,
       -11, 6, 13, -5, 9, -15, 4, 11, -8, 17, -10, 3, 8, -12, 14, -6, 3, 9, -13, 5,
       12, -7, 3, 25, -14, 10, -4, 8, -9, 2, 13, -11, 6, 4, -10, 9, -3, 14, -7, 1,
       -8, 12, 5, -10, 7, 2, -13, 9, -4, 11, -7, 3, 8, -12, 6, -2, 10, -9, 4, 13,
       2, -7, 10, -4, 8, -11, 3, 12, -8, 5, -3, 9, -10, 6, 1, -13, 7, -5, 11, -2,
       10, -8, 4, -3, 12, -9, 7, -5, 2, 13, -7, 5, -11, 3, 8, -4, 11, -1, -8, 6,
       -4, 9, 3, -11, 7, -6, 12, 1, -8, 10, -3, 5, -9, 11, -2, 7, -12, 4, 8, -5,
       10, -3, 6, -9, 4, 12, -7, 1, 9, -11, 3, 7, -5]

xlf = [5, -8, 2, 7, -3, 15, -5, 1, 4, -14, 3, 6, -4, 0, 8, -6, 2, -4, 9, -1,
       -4, 6, -9, 3, 0, 7, -5, 3, -2, 16, -7, 1, 5, -3, 8, -14, 4, 2, -6, 7,
       3, -4, 8, -1, 5, -13, 3, 9, -3, 0, -8, 6, 2, -5, 14, -3, 1, 7, -9, 4,
       -6, 2, 14, -4, 0, 7, -10, 4, 3, -2, 8, -5, 1, 6, -15, 3, 0, 9, -4, 2,
       8, -3, 4, 1, -14, 6, -2, 10, -5, 0, 3, -7, 7, -1, 3, -8, 5, 2, -3, 15,
       -2, 5, -7, 15, -3, 1, 6, -8, 4, 3, 0, 9, -6, 2, 7, -4, 0, -16, 5, 3,
       7, -1, 4, -14, 2, 9, -5, 3, 0, -7, 13, -3, 5, -9, 3, 1, -6, 8, -2, 4,
       -4, 14, -2, 5, -7, 3, 1, -15, 6, 3, -5, 0, 9, -3, 2, -8, 7, 4, -1, 6,
       2, -5, 15, -3, 7, 0, 4, -8, 1, 9, -6, 3, 5, -2, 8, -13, 3, -4, 0, 10,
       -7, 4, 1, -3, 8, -15, 5, 2, -6, 3, -1, 7, 3, -9, 4, 0, -5, 14, -3, 6,
       3, -8, 5, 1, -4, 9, 14, -6, 2, 7, -3, 0, 13, -7, 3, -2, 10, -5, 4, 0,
       -5, 14, -3, 4, 0, -8, 7, 3, -6, 10, -1, 5, -15, 2, 6, -3, 8, -7, 1, 3,
       8, -3, 6, -15, 2, 4, -7, 9, 0, 5, -4, 3, 14, -6, 1, -8, 7, 3, -3, 5,
       -10, 13, 4, -7, 15, -12, 6, 9, -14, 3, 11, -8, 16, -30, 10, -6, 14, 3, -13, 8,
       -7, 12, -14, 5, 10, -9, 16, -4, 2, 13, -11, 7, -15, 9, 4, -8, 14, -6, 11, -3,
       9, -13, 5, 15, -10, 3, -17, 12, 7, -5, 13, -9, 2, 16, -12, 6, -3, 10, -14, 8,
       -5, 11, 7, -12, 4, 14, -8, 3, 10, -13, 6, -38, 9, -4, 12, -10, 5, 2, -9, 13,
       4, -8, 11, -3, 7, -11, 9, 3, -6, 12, -10, 5, 1, 39, -7, 10, -4, 8, -12, 3,
       -6, 10, -3, 7, 12, -9, 4, -2, 11, -7, 3, 9, -12, 5, 1, -8, 13, -4, 7, -10,
       24, -5, 9, -10, 3, 7, -12, 8, 2, -6, 11, -3, 5, -9, 10, 3, -7, 12, -11, 4,
       7, -9, 3, 10, -6, 12, -3, 5, -11, 8, 1, -7, 11, -4, 6, -10, 9, 2, -8, 3,
       -7, 11, -3, 6, 9, -8, 4, -11, 10, 2, -6, 8, -3]

sso = [-5, 7, 3, -8, 5, 1, -6, 14, -2, 3, -15, 6, 0, -4, 8, -5, 3, 4, -7, 2,
       6, -3, 13, -5, 1, 4, -8, 3, 7, -1, 5, -15, 2, 8, -4, 0, 6, -7, 3, -2,
       9, -6, 1, 5, -4, 8, 0, -13, 4, 2, -10, 7, -3, 3, 0, -5, 16, -2, 6, -8,
       1, 5, -7, 15, -3, 4, 0, -6, 8, -4, 2, 7, -14, 3, -1, 6, -5, 3, 9, -4,
       5, -16, 3, 7, -4, 0, 8, -3, 4, -6, 14, -1, 2, -8, 6, 3, -5, 9, -2, 0,
       -7, 4, 2, -5, 14, -1, 6, -8, 3, 0, -4, 7, -3, 10, -6, 1, 5, -4, 8, -15,
       3, 7, -4, 1, -13, 6, 3, -2, 9, -5, 0, 4, -7, 14, -3, 2, -10, 5, 1, -4,
       8, -5, 2, 6, -3, -15, 4, 1, 7, -4, 10, -6, 3, 0, 5, -8, 2, 13, -4, 3,
       -6, 3, 14, -1, 4, -7, 9, 2, -4, 6, -16, 3, 0, 7, -3, 5, -8, 1, 10, -2,
       7, -4, 0, -14, 5, 3, -6, 8, -2, 4, 1, -7, 15, -4, 2, 6, -10, 3, 0, 8,
       -3, 6, -8, 2, 9, -4, 20, -7, 3, 1, -5, 15, -2, 4, -14, 7, 3, -6, 0, 5,
       8, -4, 2, -7, 6, 1, -15, 4, 9, -3, 5, -6, 3, 0, -8, 7, -2, 14, -4, 3,
       -4, 7, -6, 14, 2, -8, 5, 0, -4, 9, -2, 6, -15, 3, 8, -5, 1, 7, -3, 4,
       9, -8, 13, -4, 24, -11, 6, 14, -9, 3, -16, 10, 7, -13, -40, 12, -8, -25, -5, 11,
       -6, 15, -11, 8, 4, -14, 10, 3, -9, -22, 13, -5, 16, -10, 6, 2, -15, 11, -3, 9,
       12, -7, 5, -14, 10, 29, -11, 7, 40, -10, 14, -6, 3, -12, 9, 5, -16, 11, -4, 8,
       -9, 13, 3, -11, 7, 15, -8, 4, -13, 10, -3, 8, -12, 6, 16, -7, 2, -10, 12, -4,
       7, -11, 4, 10, -6, 13, -9, 3, 8, -12, 5, -34, 11, -3, 9, -7, 14, -5, 2, -10,
       10, -4, 8, -12, 3, 11, -7, 5, -10, 3, 45, -8, 12, -3, 7, -11, 4, 9, -6, 1,
       -8, 11, -5, 7, 13, -9, 3, -6, 10, -3, 8, -12, 5, 2, -10, 9, -4, -34, 6, 10,
       -4, -35, 8, -7, 11, -5, 6, -44, 9, -2, 12, -8, 4, -10, 7, 3, -9, 11, -5, 8,
       -7, 10, -4, 6, -11, 8, 2, -9, 12, -5, 7, -3, 5]

sds = [3, -6, 14, -4, 1, 7, -10, 4, -2, 8, -5, 0, 6, -14, 3, -1, 10, -5, 2, -7,
       8, -4, 1, 6, -15, 4, -2, 10, -6, 3, 0, 7, -8, 2, 5, -5, 14, -3, 0, 6,
       -5, 3, 15, -2, 7, -8, 4, 1, -6, 9, -3, 5, -16, 3, 0, -7, 8, -1, 4, -9,
       6, -4, 2, 8, -14, 5, -1, 7, -5, 3, 13, -6, 0, -8, 4, 10, -3, 2, -7, 5,
       -2, 9, -6, 4, 0, 7, -15, 3, 14, -4, 1, -7, 5, 8, -3, 3, -10, 6, 0, -5,
       13, -3, 5, -8, 3, 1, -7, 10, -2, 6, -15, 4, 0, -5, 8, -4, 2, 7, -10, 3,
       -4, 8, -2, 6, -14, 3, 1, -7, 15, -3, 5, 0, -8, 4, -6, 10, -1, 3, -9, 7,
       2, -14, 6, -4, 8, -1, 4, -7, 10, -3, 0, 5, 26, -8, 3, -5, 7, 28, -10, 4,
       -7, 3, 14, -4, 1, 8, -6, 3, -16, 5, -2, 7, 0, -8, 4, 10, -4, 2, -5, 9,
       -1, 6, -9, 3, 13, -4, 10, -2, 3, -8, 5, 1, -6, 9, -3, 4, -15, 7, 0, -4,
       6, -15, 3, 8, -4, -5, 13, -3, 9, -1, 4, -7, 2, 14, -6, 3, -9, 5, 1, -3,
       7, -5, 15, -2, 4, -8, 0, 6, -14, 3, -4, 8, 2, -7, 5, -1, 9, -4, 3, -10,
       4, -2, 8, -7, 1, 6, -16, 3, 9, -5, 3, 0, 7, -8, 5, 2, -4, 14, -3, 6,
       -12, 8, -4, 15, -9, 6, 11, -14, 3, -7, 17, -11, 5, 12, 20, -8, 7, 19, -13, 9,
       5, -15, 11, -6, 14, -3, 9, -12, 17, -4, 7, -10, 13, 2, -16, 8, -5, 12, -9, 4,
       -8, 10, -3, 16, -12, 6, 36, -7, 13, -10, 3, 15, -9, 5, -14, 11, 33, -6, 9, -4,
       11, -6, 14, -10, 3, 8, -13, 7, -4, 12, -9, 2, 10, -7, 15, -3, 6, -11, 9, -2,
       -10, 7, 3, -13, 9, 4, -6, 11, -8, 1, 13, -11, 5, 8, -4, 12, -9, 3, -7, 10,
       3, -8, 11, -5, 6, -11, 9, 2, -7, 12, -3, 7, -10, 4, 8, -12, 3, 10, -6, 5,
       -9, 6, 10, -4, 8, -11, 3, 7, -7, 12, -2, 5, -10, 9, 3, -8, 11, -5, 2, 7,
       -6, 10, -3, 8, -12, 5, 1, -35, 7, -4, 11, -8, 3, 9, -5, 2, -11, 8, -3, 6,
       10, -5, 2, -9, 7, 12, -6, 4, -10, 8, -3, 9, -7]

uso = [6, 2, -7, -12, 6, -3, 8, -5, 1, 14, -4, 5, -8, 3, 0, -6, 7, -2, 15, -4,
       -3, 8, -6, 3, -15, 5, 1, -4, 10, -2, 7, -7, 3, 0, -5, 13, -4, 4, -8, 2,
       7, -4, 2, -14, 3, 10, -3, 5, -6, 1, 14, -9, 4, -2, 6, -5, 0, 9, -7, 3,
       -4, 6, -16, 2, 8, -4, 5, 0, -7, 9, -3, 3, 13, -8, 1, -5, 10, -2, 4, -6,
       9, -2, 5, -7, 3, 8, -4, 1, -14, 6, 0, 4, -6, 15, -3, 2, 7, -8, 0, -5,
       3, -15, 7, -3, 9, -5, 2, 6, -8, 4, -1, 8, -4, 0, 14, -7, 3, -2, 6, -9,
       5, -3, 16, -6, 1, 7, -9, 3, -2, 8, -5, 3, 9, -14, 2, 0, 6, -10, 4, 1,
       -6, 9, -3, 4, -13, 2, 7, -5, 15, -1, 3, -9, 6, 0, -4, 8, -2, 5, -7, 3,
       8, -4, 1, -15, 6, 3, -7, 9, -3, 2, -8, 5, 0, -6, 14, -4, 4, -1, 7, -9,
       3, -7, 14, -2, 5, -9, 3, 7, -4, 0, -15, 6, 2, -5, 9, -3, 4, -10, 8, 0,
       -4, 8, -2, 6, -10, 3, 16, -7, 4, 13, -3, 1, -8, 7, -3, 5, -15, 10, -1, 3,
       6, -14, 3, 1, -7, 10, -4, 2, 8, -5, 0, -10, 7, -3, 4, 15, -6, 3, -4, 8,
       -7, 4, 9, -3, 6, -16, 2, 7, -5, 3, -8, 14, -1, 5, -9, 3, 8, -4, 0, -6,
       12, -7, 4, -14, 10, 6, -11, 15, -4, 8, -16, 5, 13, -10, 3, -15, 9, 7, -12, 14,
       -8, 16, -5, 10, -13, 3, 12, -9, 18, -6, 2, -14, 11, -4, 15, -11, 7, -3, 13, -10,
       6, -12, 14, -7, 9, -15, 4, 11, -9, 17, -5, 8, -13, 3, 12, -8, 5, -16, 10, -3,
       13, -9, 7, -4, 11, -14, 6, 2, -10, 15, -7, 9, -3, 12, -11, 4, 8, -6, 14, -9,
       5, -10, 12, -6, 8, 3, -13, 9, -4, 11, -8, 6, -2, 13, -10, 4, 9, -7, 3, -12,
       10, -5, 8, -11, 6, 2, -9, 12, -3, 7, 30, -6, 25, -10, 4, -8, 11, -3, 9, -7,
       4, -12, -42, 8, -5, -29, 11, -3, 9, -10, 6, 3, -8, 12, -4, 7, -11, 5, 10, -6,
       -3, 9, -7, 11, 2, -10, 6, -4, 12, -8, 3, -5, 24, -9, 7, -2, 10, -6, 4, 8,
       -10, 5, 11, -4, 7, -9, 3, 10, -7, 6, -2, 8, -5]

stocks = ["AAPL", "AMZN", "MSFT", "GOOG", "XOM", "APC", "CVX", "C", "GS", "JPM",
          "AET", "JNJ", "DGX", "SPY", "XLF", "SSO", "SDS", "USO"]
series = [aapl, amzn, msft, goog, xom, apc, cvx, c_, gs, jpm,
          aet, jnj, dgx, spy, xlf, sso, sds, uso]
tab10 = ["#1f77b4", "#ff7f0e", "#2ca02c", "#d62728", "#9467bd",
         "#8c564b", "#e377c2", "#7f7f7f", "#bcbd22", "#17becf"]
colors = [tab10[i % 10] for i in range(len(stocks))]

DPI = 90
fig = plt.figure(figsize=(1187 / DPI, 795 / DPI), dpi=DPI)
L, R, T, B = 81, 1191, 29.5, 751
ax = fig.add_axes([L / 1187, 1 - B / 795, (R - L) / 1187, (B - T) / 795])

for name, vals, col in zip(stocks, series, colors):
    y = np.asarray(vals, dtype=float) / 10.0
    sns.lineplot(x=np.arange(len(y)), y=y, color=col, label=name, ax=ax,
                 linewidth=1.5, legend=False)

ax.set_ylim(-10, 10)
ax.set_title("Daily Returns from Each Stock")
ax.set_xlabel("Timestep")
ax.set_ylabel("Daily Return (Zero-Mean, Unit Variance)")
ax.legend(loc="lower right", fontsize=10.2)

fig.savefig("out.png", dpi=DPI)
